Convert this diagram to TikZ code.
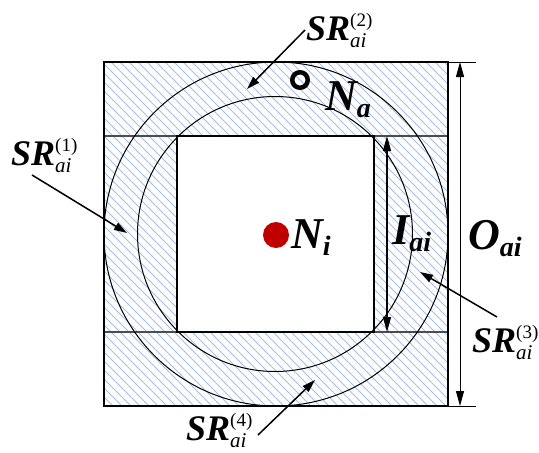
\documentclass[tikz,border=0pt]{standalone}
\usepackage{fontspec}
\setmainfont{Liberation Serif}
\usetikzlibrary{arrows.meta}
\definecolor{hatch}{RGB}{165,192,232}
\definecolor{dotred}{RGB}{192,0,0}
\newcommand{\srlab}[1]{{\fontsize{36}{36}\selectfont\bfseries\itshape SR}\makebox[0pt][l]{\raisebox{14pt}{\fontsize{19}{19}\selectfont(#1)}}\raisebox{-7pt}{\fontsize{21}{21}\selectfont\itshape ai}}
\newcommand{\biglab}[2]{{\fontsize{44}{44}\selectfont\bfseries\itshape #1\raisebox{-7pt}{\fontsize{28}{28}\selectfont #2}}}
\tikzset{
  frame/.style={line width=1.5pt,black},
  band/.style={line width=1.2pt,black!70},
  ring/.style={line width=1pt,black},
  leader/.style={line width=1.5pt,-{Triangle[length=13pt,width=8pt]}},
  dimline/.style={line width=1.3pt,{Triangle[length=15pt,width=8pt]}-{Triangle[length=15pt,width=8pt]}},
  lab/.style={inner sep=0pt,anchor=base west},
}
\begin{document}
\begin{tikzpicture}[x=1pt,y=-1pt]
\useasboundingbox (0,0) rectangle (539,453);
% hatching
\begin{scope}
  \clip (104,62) -- (448,62) -- (448,406) -- (104,406) -- cycle
        (177,136) -- (177,332) -- (374,332) -- (374,136) -- cycle;
  \foreach \c in {-500,-491,...,500}{
    \draw[hatch,line width=0.8pt] (\c,0) -- ++(500,500);
  }
\end{scope}
% bands
\draw[band] (104,136) -- (448,136);
\draw[band] (104,332) -- (448,332);
% circles
\draw[ring] (276,234) circle[radius=172];
\draw[ring] (275,234) circle[radius=137.5];
% frames
\draw[frame] (104,62) rectangle (448,406);
\draw[frame] (177,136) rectangle (374,332);
% points
\fill[dotred] (276,235) circle[radius=13];
\node[circle,draw,line width=4.5pt,minimum size=15.5pt,inner sep=0pt] (na) at (300,80) {};
\node[lab] (nat) at (325,110) {\biglab{N}{a}};
\node[lab] (nit) at (291,248) {\biglab{N}{i}};
% dimension I
\coordinate (it) at (387,136);
\coordinate (ib) at (387,332);
\draw[dimline] (it) -- (ib);
\node[lab] (il) at (392,244) {\biglab{I}{ai}};
% dimension O
\coordinate (ot1) at (448,62);
\coordinate (ot2) at (476,62);
\coordinate (ob1) at (448,406);
\coordinate (ob2) at (476,406);
\draw[line width=1pt] (ot1) -- (ot2);
\draw[line width=1pt] (ob1) -- (ob2);
\coordinate (ot) at (460,62);
\coordinate (ob) at (460,406);
\draw[line width=1pt,{Triangle[length=15pt,width=8pt]}-{Triangle[length=15pt,width=8pt]}] (ot) -- (ob);
\node[lab] (ol) at (468,249) {\biglab{O}{ai}};
% SR labels
\node[lab] (sr2) at (306,40) {\srlab{2}};
\node[lab] (sr1) at (11,165) {\srlab{1}};
\node[lab] (sr3) at (472,352) {\srlab{3}};
\node[lab] (sr4) at (186,440) {\srlab{4}};
\coordinate (t2) at (247,89);
\coordinate (t1) at (127,233);
\coordinate (t3) at (420,272);
\coordinate (t4) at (315,380);
\coordinate (s2) at (305,30);
\coordinate (s1) at (32,175);
\coordinate (s3) at (497,317);
\coordinate (s4) at (258,435);
\draw[leader] (s2) -- (t2);
\draw[leader] (s1) -- (t1);
\draw[leader] (s3) -- (t3);
\draw[leader] (s4) -- (t4);
\end{tikzpicture}
\end{document}
